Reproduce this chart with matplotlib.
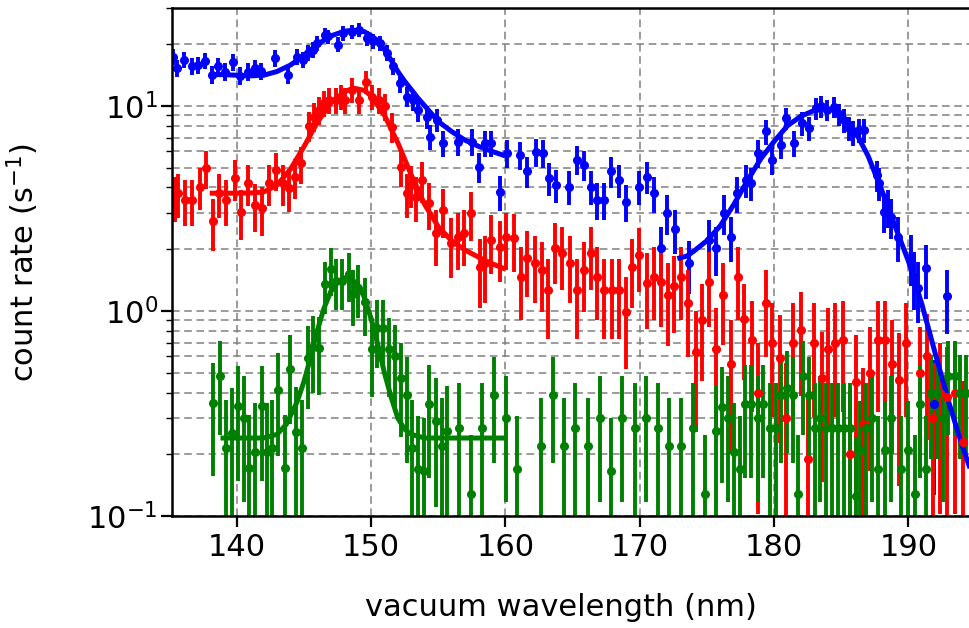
import numpy as np
import matplotlib
matplotlib.use('Agg')
import matplotlib.pyplot as plt
from matplotlib.ticker import LogLocator, NullLocator, NullFormatter

# --- dados medidos (taxa de contagem em s^-1) ---
blue_x = [135.28, 135.58, 136.08, 136.65, 137.14, 137.64, 138.14, 138.63, 139.13, 139.75,
          140.25, 140.86, 141.36, 141.8, 142.85, 143.84, 144.46, 144.96, 145.33, 145.7,
          145.95, 146.57, 146.82, 147.56, 147.93, 148.56, 149.12, 149.67, 150.16, 150.66,
          151.16, 151.65, 152.15, 152.65, 153.14, 153.51, 154.14, 154.38, 154.88, 155.37,
          156.49, 157.49, 158.05, 158.48, 158.97, 159.59, 160.09, 161.08, 161.62, 162.27,
          162.77, 163.24, 163.76, 164.75, 165.3, 165.84, 166.36, 166.86, 167.33, 167.9,
          168.47, 168.97, 169.96, 170.51, 171.05, 171.55, 172.04, 172.61, 173.68, 175.16,
          175.66, 176.28, 176.78, 177.28, 177.9, 178.27, 178.77, 179.38, 179.88, 180.5,
          180.87, 181.49, 182.11, 182.61, 183.1, 183.48, 183.97, 184.47, 184.84, 185.2,
          185.6, 185.9, 186.3, 186.7, 187.7, 187.8, 188.2, 188.5, 188.74, 189.2,
          190.2, 190.4, 190.7, 191.3, 191.9, 192.9]
blue_y = [17.4, 15.3, 16.8, 15.6, 15.8, 16.6, 14.2, 15.6, 14.7, 16.3,
          14.0, 14.7, 15.3, 14.8, 17.1, 14.2, 17.4, 16.8, 18.1, 18.8,
          20.2, 22.2, 21.8, 19.9, 22.6, 23.0, 23.5, 21.4, 20.6, 20.2,
          18.1, 15.6, 12.9, 11.1, 10.7, 9.55, 8.87, 7.08, 8.55, 6.58,
          6.7, 6.7, 5.06, 6.58, 6.58, 3.82, 5.88, 5.77, 4.79, 5.98,
          5.88, 4.44, 4.12, 4.04, 5.46, 5.15, 4.04, 3.48, 3.48, 4.79,
          4.35, 3.41, 4.04, 4.52, 3.75, 2.02, 3.0, 2.5, 1.71, 2.22,
          2.02, 3.0, 2.3, 3.75, 4.35, 4.2, 5.88, 7.5, 5.46, 6.45,
          8.7, 6.58, 8.24, 7.78, 9.74, 9.93, 9.56, 9.9, 9.1, 8.5,
          7.8, 7.4, 7.6, 7.6, 4.6, 4.2, 3.05, 3.2, 2.88, 2.3,
          1.84, 1.47, 1.3, 1.62, 0.35, 1.18]

red_x = [135.41, 135.66, 136.15, 136.65, 137.27, 137.72, 138.21, 138.71, 139.2, 139.87,
         140.3, 140.86, 141.36, 141.86, 142.4, 142.92, 143.47, 143.89, 144.34, 144.81,
         145.38, 145.75, 146.12, 146.5, 146.87, 147.37, 147.74, 148.1, 148.6, 149.1,
         149.6, 150.09, 150.59, 151.08, 151.58, 152.2, 152.7, 152.95, 153.32, 153.81,
         154.31, 154.81, 155.35, 155.97, 156.47, 156.96, 157.46, 158.08, 158.45, 158.94,
         159.57, 160.06, 160.63, 161.13, 161.62, 162.22, 162.72, 163.21, 163.71, 164.2,
         164.78, 165.32, 165.89, 166.38, 166.81, 167.38, 167.92, 168.47, 168.97, 169.46,
         169.98, 170.53, 171.03, 171.59, 172.09, 172.59, 173.08, 173.63, 174.17, 174.67,
         175.16, 175.71, 176.2, 176.78, 177.32, 177.8, 178.34, 178.84, 179.38, 179.88,
         180.43, 180.92, 181.42, 182.01, 182.54, 183.01, 183.56, 184.05, 184.55, 185.13,
         185.63, 186.1, 186.62, 187.17, 187.74, 188.24, 188.8, 189.3, 189.8, 190.84,
         191.39, 191.83, 192.33, 192.9, 193.44, 194.06]
red_y = [3.61, 3.75, 3.48, 3.48, 4.04, 4.97, 2.73, 3.75, 3.48, 4.44,
         3.05, 4.2, 3.29, 3.17, 4.2, 4.88, 4.2, 3.97, 4.52, 5.25,
         8.0, 8.87, 9.56, 10.3, 10.7, 10.7, 11.1, 10.7, 12.0, 10.7,
         13.1, 11.1, 10.7, 9.93, 7.92, 5.06, 3.75, 4.12, 3.61, 4.35,
         3.35, 2.39, 3.11, 2.14, 2.3, 2.39, 3.0, 1.64, 1.71, 2.22,
         2.06, 2.3, 2.26, 1.47, 1.81, 1.71, 1.58, 1.26, 2.02, 1.91,
         1.71, 1.26, 1.58, 1.91, 1.47, 1.26, 1.26, 1.26, 0.99, 1.64,
         1.88, 1.37, 1.47, 1.39, 1.19, 1.32, 1.47, 1.09, 0.63, 0.9,
         1.39, 0.65, 1.2, 0.55, 1.47, 0.91, 0.72, 0.4, 1.09, 0.7,
         0.59, 0.3, 0.7, 0.81, 0.19, 0.7, 0.47, 0.65, 0.7, 0.72,
         0.2, 0.45, 0.28, 0.5, 0.72, 0.72, 0.55, 0.46, 0.7, 0.5,
         0.6, 0.3, 0.4, 0.38, 0.4, 0.23]

green_x = [138.26, 138.76, 139.2, 139.63, 140.12, 140.54, 140.94, 141.36, 141.86, 142.27,
           142.67, 143.09, 143.59, 144.01, 144.41, 144.9, 145.33, 145.7, 146.15, 146.57,
           146.99, 147.43, 147.88, 148.38, 148.63, 149.05, 149.55, 150.04, 150.46, 150.91,
           151.35, 151.78, 152.2, 152.65, 153.09, 153.51, 153.96, 154.33, 154.83, 155.25,
           155.67, 156.56, 157.41, 158.27, 159.14, 160.04, 160.88, 162.69, 163.56, 164.38,
           165.22, 166.17, 167.03, 167.9, 168.72, 169.63, 170.5, 171.37, 172.19, 173.11,
           173.97, 174.84, 175.71, 176.15, 176.58, 177.02, 177.45, 177.82, 178.32, 178.77,
           179.19, 179.68, 180.13, 180.55, 180.97, 181.42, 181.79, 182.17, 182.61, 183.03,
           183.45, 183.9, 184.34, 184.76, 185.2, 185.63, 186.08, 186.43, 186.87, 187.32,
           187.74, 188.24, 188.74, 189.48, 189.98, 190.48, 190.84, 191.29, 191.71, 192.13,
           192.58, 192.95, 193.44, 193.82, 194.32]
green_y = [0.356, 0.48, 0.215, 0.254, 0.343, 0.3, 0.172, 0.205, 0.343, 0.205,
           0.215, 0.41, 0.172, 0.52, 0.256, 0.215, 0.59, 0.67, 0.66, 1.35,
           1.6, 1.4, 1.4, 1.51, 1.21, 1.3, 1.1, 0.65, 0.83, 0.83,
           0.65, 0.6, 0.47, 0.39, 0.215, 0.17, 0.165, 0.35, 0.29, 0.22,
           0.26, 0.27, 0.128, 0.27, 0.39, 0.3, 0.17, 0.22, 0.39, 0.22,
           0.27, 0.22, 0.3, 0.165, 0.3, 0.27, 0.3, 0.27, 0.22, 0.22,
           0.27, 0.128, 0.26, 0.34, 0.3, 0.205, 0.17, 0.35, 0.35, 0.3,
           0.35, 0.27, 0.27, 0.39, 0.42, 0.39, 0.128, 0.48, 0.39, 0.27,
           0.3, 0.27, 0.27, 0.27, 0.27, 0.27, 0.125, 0.21, 0.27, 0.3,
           0.17, 0.21, 0.3, 0.17, 0.21, 0.128, 0.35, 0.17, 0.4, 0.4,
           0.3, 0.48, 0.48, 0.4, 0.4]

# tempo efetivo de medição por série (s) -> barras de erro de Poisson
t_blue, t_red, t_green = 7.0, 4.5, 9.0

# --- curvas ajustadas ---
fit_blue1_x = [138.2, 139, 140, 141, 142, 143, 144, 145, 146, 147, 148, 148.7, 149.5, 150,
               150.5, 151, 151.5, 152, 152.5, 153, 153.5, 154, 155, 156, 157, 158, 159, 160]
fit_blue1_y = [14.2, 14.2, 14.1, 14.0, 14.1, 14.7, 15.8, 17.6, 19.9, 21.9, 23.1, 23.4, 23.0, 22.0,
               20.8, 18.8, 16.7, 14.7, 13.2, 12.0, 10.9, 10.0, 8.4, 7.5, 6.8, 6.35, 6.0, 5.7]

fit_blue2_x = [172.8, 173.5, 174, 175, 176, 177, 178, 179, 180, 181, 182, 183, 183.7, 184.5,
               185, 186, 187, 188, 189, 190, 191, 192, 193, 194, 194.6, 195.5]
fit_blue2_y = [1.8, 1.85, 1.95, 2.2, 2.6, 3.3, 4.3, 5.5, 6.7, 8.0, 8.9, 9.5, 9.7, 9.5,
               9.0, 7.6, 5.7, 3.9, 2.6, 1.75, 1.08, 0.62, 0.36, 0.22, 0.17, 0.12]

fit_red_x = [138.0, 139, 140, 141, 142, 143, 144, 145, 146, 147, 148, 148.7, 149.5, 150,
             151, 152, 153, 154, 155, 156, 157, 158, 159, 160]
fit_red_y = [3.75, 3.75, 3.75, 3.76, 3.8, 4.1, 4.9, 6.3, 8.3, 10.3, 11.7, 12.2, 11.9, 11.2,
             9.0, 6.6, 4.6, 3.3, 2.58, 2.2, 1.98, 1.83, 1.7, 1.6]

fit_green_x = [138.8, 140, 141, 142, 143, 143.7, 144.5, 145, 145.5, 146, 146.5, 147, 147.5,
               148, 148.5, 149, 149.5, 150, 150.5, 151, 151.5, 152, 152.5, 153, 154, 155, 160]
fit_green_y = [0.24, 0.24, 0.24, 0.24, 0.25, 0.28, 0.36, 0.45, 0.59, 0.8, 1.03, 1.24, 1.38,
               1.45, 1.44, 1.35, 1.17, 0.92, 0.69, 0.5, 0.38, 0.3, 0.265, 0.25, 0.24, 0.24, 0.24]

fig = plt.figure(figsize=(9.7, 6.28), dpi=100)
ax = fig.add_axes([172 / 970, 112 / 628, 817 / 970, 508 / 628])
ax.set_yscale('log')

series = [
    (blue_x, blue_y, t_blue, 'b'),
    (red_x, red_y, t_red, 'r'),
    (green_x, green_y, t_green, 'g'),
]
for xs, ys, t, cor in series:
    ys = np.array(ys)
    ax.errorbar(xs, ys, yerr=np.sqrt(ys / t), fmt='o', color=cor,
                markersize=5.5, elinewidth=2.8, capsize=0)

for fx, fy, cor in [(fit_blue1_x, fit_blue1_y, 'b'), (fit_blue2_x, fit_blue2_y, 'b'),
                    (fit_red_x, fit_red_y, 'r'), (fit_green_x, fit_green_y, 'g')]:
    ax.plot(fx, fy, color=cor, linewidth=3.6, solid_capstyle='butt')

ax.set_xlim(135.19, 196.0)
ax.set_ylim(0.1, 30)
ax.set_xticks([140, 150, 160, 170, 180, 190])
ax.xaxis.set_minor_locator(NullLocator())
ax.yaxis.set_major_locator(LogLocator(base=10))
ax.yaxis.set_minor_locator(LogLocator(base=10, subs=np.arange(2, 10)))
ax.yaxis.set_minor_formatter(NullFormatter())

ax.grid(True, which='major', axis='both', color='gray', linestyle=(0, (5, 3)), linewidth=1.1)
ax.grid(True, which='minor', axis='y', color='gray', linestyle=(0, (5, 3)), linewidth=1.1)

for s in ax.spines.values():
    s.set_linewidth(1.8)
ax.tick_params(which='major', length=8, width=1.6, labelsize=22, pad=4)
ax.tick_params(axis='y', which='major', pad=2)
ax.tick_params(which='minor', length=4, width=1.0)

ax.set_xlabel('vacuum wavelength (nm)', fontsize=22)
ax.set_ylabel('count rate (s$^{-1}$)', fontsize=22)
ax.xaxis.set_label_coords(0.476, -0.152)
ax.yaxis.set_label_coords(-0.16, 0.5)

fig.savefig('out.png', dpi=100)
